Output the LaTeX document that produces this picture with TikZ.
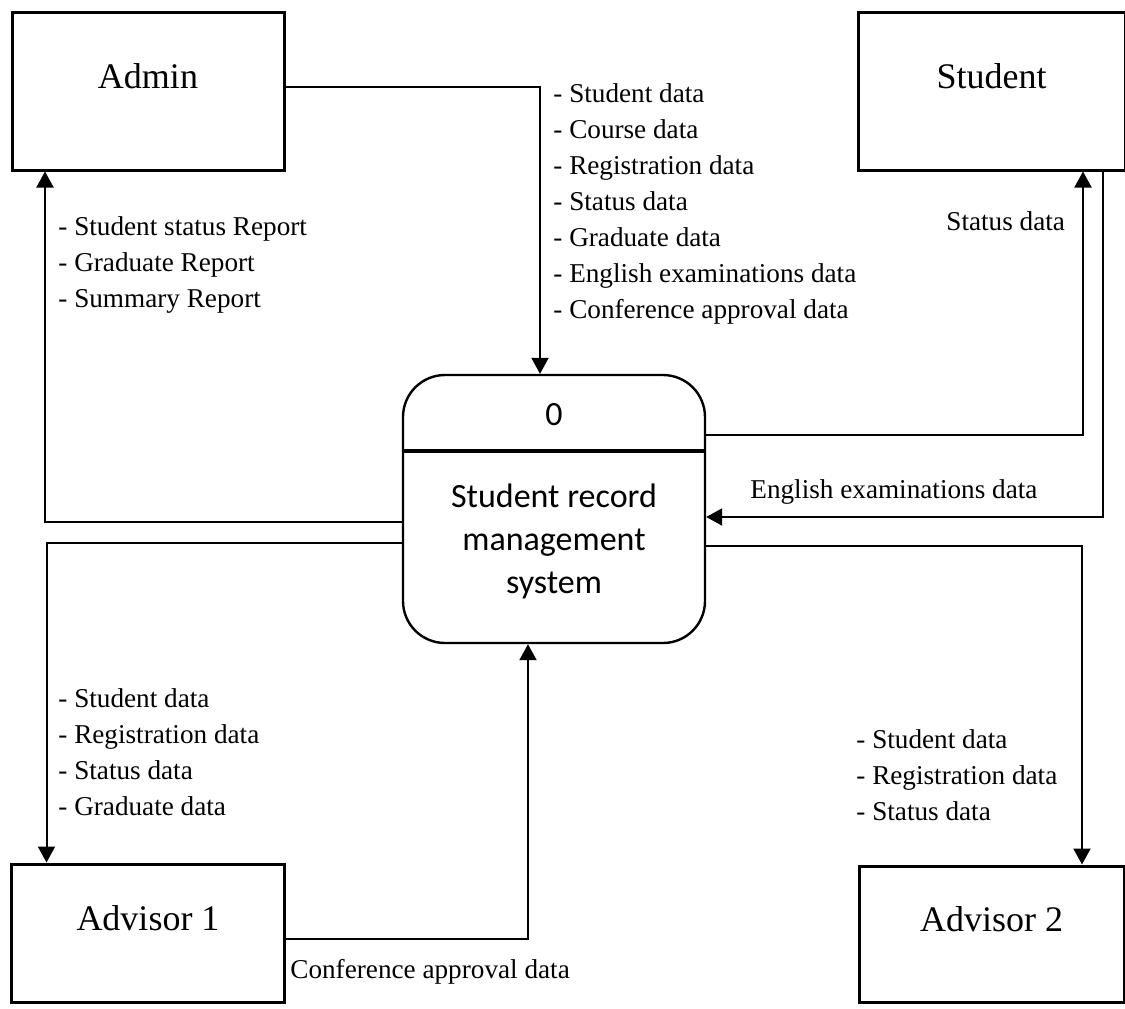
\documentclass[tikz,border=0pt]{standalone}
\usepackage{fontspec}
\setmainfont{Liberation Serif}
\newfontfamily\procfont{Carlito}
\usetikzlibrary{arrows.meta}
\usetikzlibrary{positioning}
\tikzset{
    entity/.style={
      rectangle,
           draw=black, line width=1.5pt,
           inner sep=2pt,
           text centered,
           text height=10pt, text depth=13pt,
           font=\fontsize{18}{22}\selectfont,
           },
}
\tikzset{
    process/.style={
      rectangle, rounded corners=21pt,
           draw=black, line width=1.2pt,
           minimum width=151pt, minimum height=134pt,
           },
}
\tikzset{
    proctext/.style={
           inner sep=0pt, align=center,
           font=\procfont\fontsize{17}{21.5}\selectfont,
           },
}
\tikzset{
    flowtext/.style={
           inner sep=0pt, align=left,
           font=\fontsize{13.6}{18}\selectfont,
           },
}
\tikzset{
    flow/.style={
           draw=black, line width=1pt,
           -{Triangle[length=8pt,width=8.5pt]},
           },
}

\begin{document}
\begin{tikzpicture}[x=0.5pt,y=-0.5pt]
\useasboundingbox (0,0) rectangle (1125,1008);

\node[entity,minimum width=136pt,minimum height=79pt](adm) at (148,91){Admin};
\node[entity,minimum width=133.5pt,minimum height=79pt,right = 285.5pt of adm](stu){Student};
\node[entity,minimum width=136.5pt,minimum height=69pt,below = 345.5pt of adm](adv1){Advisor 1};
\node[entity,minimum width=132.5pt,minimum height=68pt,below = 346.5pt of stu](adv2){Advisor 2};

\node[process](srm) at (554,509){};
\coordinate (cut) at (554,451);
\draw[line width=1.8pt] (srm.west |- cut) -- (srm.east |- cut);
\node[proctext,anchor=base](pid) at (554,425){0};
\node[proctext,anchor=north](pname) at (554,483){Student record\\management\\system};

% flows in and out of the process
\draw[flow] ([yshift=2pt]adm.east) -| ([xshift=-7pt]srm.north);
\draw[flow] ([yshift=-6.5pt]srm.west) -| ([xshift=-51.5pt]adm.south);
\draw[flow] ([yshift=-17pt]srm.west) -| ([xshift=-50.75pt]adv1.north);
\draw[flow] ([yshift=-3pt]adv1.east) -| ([xshift=-13pt]srm.south);
\draw[flow] ([yshift=37pt]srm.east) -| ([xshift=45.75pt]stu.south);
\draw[flow] ([xshift=55.75pt]stu.south) |- ([yshift=-4pt]srm.east);
\draw[flow] ([yshift=-18.5pt]srm.east) -| ([xshift=45.25pt]adv2.north);

\node[flowtext,anchor=north west](l1) at (553,83){- Student data\\- Course data\\- Registration data\\- Status data\\- Graduate data\\- English examinations data\\- Conference approval data};
\node[flowtext,anchor=north west](l2) at (58,216){- Student status Report\\- Graduate Report\\- Summary Report};
\node[flowtext,anchor=base west](l3) at (946,230){Status data};
\node[flowtext,anchor=base west](l4) at (750,498){English examinations data};
\node[flowtext,anchor=north west](l5) at (58,688){- Student data\\- Registration data\\- Status data\\- Graduate data};
\node[flowtext,anchor=north west](l6) at (856,729){- Student data\\- Registration data\\- Status data};
\node[flowtext,anchor=base west](l7) at (290,978){Conference approval data};

\end{tikzpicture}
\end{document}
